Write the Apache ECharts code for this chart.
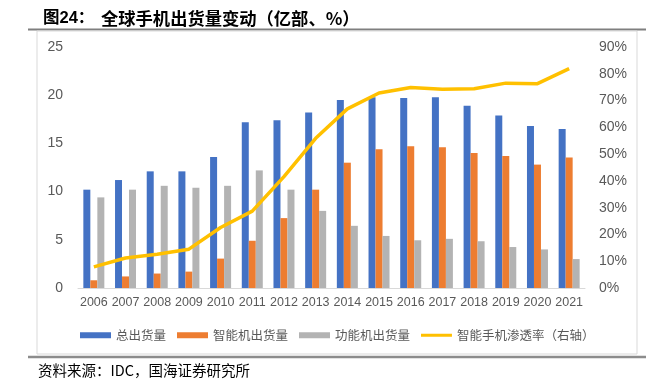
<!DOCTYPE html>
<html><head><meta charset="utf-8">
<script src="https://cdn.jsdelivr.net/npm/echarts@6/dist/echarts.min.js"></script>
<style>html,body{margin:0;padding:0;background:#fff}#c{width:651px;height:382px}</style>
</head><body><div id="c"></div>
<script>
var years = ['2006','2007','2008','2009','2010','2011','2012','2013','2014','2015','2016','2017','2018','2019','2020','2021'];
var total = [10.2,11.2,12.1,12.1,13.6,17.2,17.4,18.2,19.5,19.8,19.7,19.8,18.9,17.9,16.8,16.5];
var smart = [0.8,1.2,1.5,1.7,3.05,4.9,7.25,10.2,13.0,14.4,14.7,14.6,14.0,13.7,12.8,13.55];
var feature = [9.4,10.2,10.6,10.4,10.6,12.2,10.2,8.0,6.45,5.4,4.95,5.1,4.85,4.25,4.0,3.0];
var penetration = [7.9,11.2,12.6,14.5,22.6,28.7,41.6,55.9,66.9,72.8,74.9,74.2,74.4,76.5,76.3,81.9];
var leftTicks = {min:0,max:25,interval:5};
var rightTicks = {min:0,max:90,interval:10};
var names = ['总出货量','智能机出货量','功能机出货量','智能手机渗透率（右轴）'];

var chart = echarts.init(document.getElementById('c'));
var font = '"Noto Sans CJK SC", "Liberation Sans", sans-serif';
var thinLineIcon = 'path://M0,0L31,0L31,0.01Z M0,1.5L31,1.5L31,4.5L0,4.5Z M0,6L31,6L31,6.01Z';
chart.setOption({
  animation:false,
  textStyle:{fontFamily:font},
  title:{
    text:'{a|图24：}{b|全球手机出货量变动（亿部、%）}',
    left:38, top:5,
    textStyle:{rich:{
      a:{fontSize:16.5,fontWeight:'bold',color:'#000',fontFamily:'"Liberation Sans", "Noto Sans CJK SC", sans-serif',width:58},
      b:{fontSize:17.3,fontWeight:'bold',color:'#000',fontFamily:font}
    }}
  },
  graphic:[
    {type:'line',shape:{x1:28,y1:29.5,x2:646,y2:29.5},style:{stroke:'#7f7f7f',lineWidth:2}},
    {type:'rect',shape:{x:37,y:31,width:600,height:323},style:{fill:'none',stroke:'#d9d9d9',lineWidth:1}},
    {type:'line',shape:{x1:28,y1:357,x2:646,y2:357},style:{stroke:'#8c8c8c',lineWidth:2.5}},
    {type:'text',left:38,top:363,style:{text:'资料来源：IDC，国海证券研究所',font:'14.5px '+font,fill:'#000'}}
  ],
  grid:{left:78,right:66,top:47,bottom:94},
  legend:{
    data:[
      {name:names[0],icon:'rect'},
      {name:names[1],icon:'rect'},
      {name:names[2],icon:'rect'},
      {name:names[3],icon:thinLineIcon}
    ],
    top:324, left:75,
    itemWidth:31,itemHeight:6,itemGap:11,
    textStyle:{fontSize:12.5,color:'#595959'}
  },
  xAxis:{
    type:'category',data:years,
    axisLine:{lineStyle:{color:'#d9d9d9',width:1}},
    axisTick:{show:false},
    axisLabel:{color:'#595959',fontSize:12.5,margin:8,fontFamily:'"Liberation Sans", sans-serif',interval:0}
  },
  yAxis:[
    {type:'value',min:leftTicks.min,max:leftTicks.max,interval:leftTicks.interval,
     splitLine:{show:false},axisLine:{show:false},axisTick:{show:false},
     axisLabel:{color:'#595959',fontSize:14,margin:15,fontFamily:'"Liberation Sans", sans-serif'}},
    {type:'value',min:rightTicks.min,max:rightTicks.max,interval:rightTicks.interval,
     splitLine:{show:false},axisLine:{show:false},axisTick:{show:false},
     axisLabel:{color:'#595959',fontSize:14,margin:14,formatter:'{value}%',fontFamily:'"Liberation Sans", sans-serif'}}
  ],
  series:[
    {name:names[0],type:'bar',data:total,barWidth:7,barGap:'0%',itemStyle:{color:'#4472C4'}},
    {name:names[1],type:'bar',data:smart,barWidth:7,barGap:'0%',itemStyle:{color:'#ED7D31'}},
    {name:names[2],type:'bar',data:feature,barWidth:7,barGap:'0%',itemStyle:{color:'#B3B3B3'}},
    {name:names[3],type:'line',yAxisIndex:1,data:penetration,showSymbol:false,symbol:'none',
     lineStyle:{color:'#FFC000',width:3.5},itemStyle:{color:'#FFC000'}}
  ]
});
</script></body></html>
